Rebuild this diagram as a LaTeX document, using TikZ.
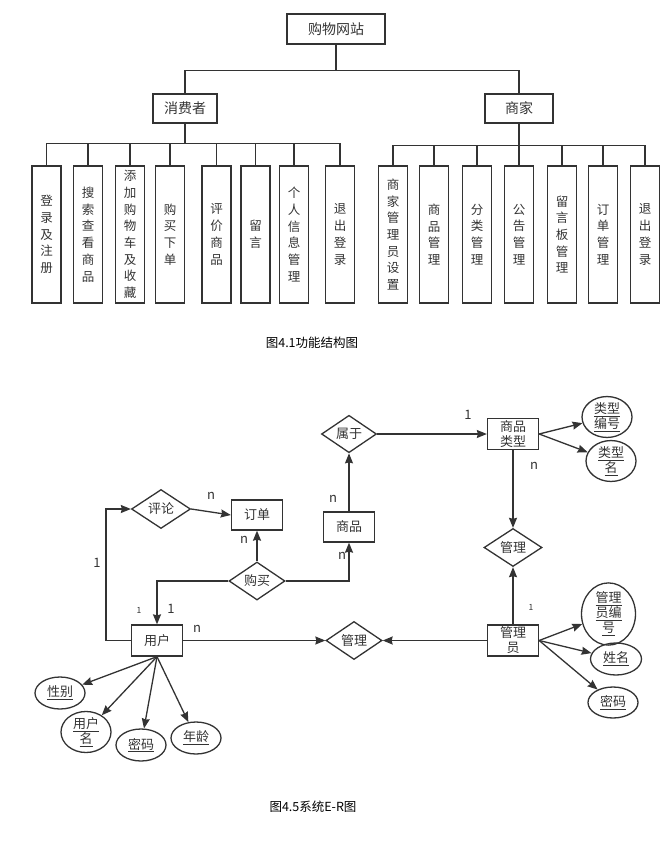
\documentclass[tikz,border=0pt]{standalone}
\usepackage{fontspec}
\setmainfont{Noto Sans CJK SC}
\usepackage{tikz}
\usetikzlibrary{arrows.meta,positioning,shapes.geometric}
\definecolor{linegray}{HTML}{333333}
\tikzset{
    >={Stealth[length=10pt,width=8pt,inset=1pt]},
    every picture/.style={line width=1.3pt},
    box/.style={rectangle,draw=linegray,inner sep=0pt,text=linegray,font=\fontsize{14}{16}\selectfont},
    leaf/.style={rectangle,draw=linegray,minimum width=29pt,minimum height=137pt,inner sep=0pt,align=center,text=linegray,font=\fontsize{12.5}{16.7}\selectfont},
    entity/.style={rectangle,draw=linegray,minimum width=51pt,minimum height=31pt,inner sep=0pt,align=center,text=linegray,font=\fontsize{13}{15}\selectfont},
    relation/.style={diamond,draw=linegray,minimum width=56pt,minimum height=34pt,inner sep=0pt,text=linegray,font=\fontsize{13}{15}\selectfont},
    attr/.style={ellipse,draw=linegray,minimum width=50pt,minimum height=32pt,inner sep=0pt,align=center,text=linegray,font=\fontsize{13}{15}\selectfont},
    card/.style={inner sep=0pt,text=linegray,font=\fontsize{13}{15}\selectfont},
    smallcard/.style={inner sep=0pt,text=linegray,font=\fontsize{8.5}{10}\selectfont},
    caption/.style={inner sep=0pt,font=\fontsize{12.5}{14}\selectfont}
}

\begin{document}
\begin{tikzpicture}[x=1pt,y=-1pt]
    \useasboundingbox (0,0) rectangle (668,843);

    % Function structure
    \node[box,minimum width=98pt,minimum height=30pt] (site) at (336,29) {购物网站};
    \node[box,minimum width=64pt,minimum height=29pt] (consumer) at (185,108.5) {消费者};
    \node[box,minimum width=68pt,minimum height=29pt] (merchant) at (519,108.5) {商家};
    \draw[linegray] (site.south) -- ++(0,26) -| (consumer.north);
    \draw[linegray] (site.south) -- ++(0,26) -| (merchant.north);

    \foreach \x/\txt [count=\i] in {46.5/{登\\录\\及\\注\\册},88/{搜\\索\\查\\看\\商\\品},
            130/{添\\加\\购\\物\\车\\及\\收\\藏},170/{购\\买\\下\\单},216.5/{评\\价\\商\\品},
            255.5/{留\\言},294/{个\\人\\信\\息\\管\\理},340/{退\\出\\登\\录}} {
        \node[leaf] (c\i) at (\x,234.5) {\txt};
        \draw[linegray] (consumer.south) -- ++(0,20) -| (c\i.north);
    }
    \foreach \x/\txt [count=\i] in {393/{商\\家\\管\\理\\员\\设\\置},434/{商\\品\\管\\理},
            477/{分\\类\\管\\理},519/{公\\告\\管\\理},562/{留\\言\\板\\管\\理},
            603/{订\\单\\管\\理},645/{退\\出\\登\\录}} {
        \node[leaf] (m\i) at (\x,234.5) {\txt};
        \draw[linegray] (merchant.south) -- ++(0,22) -| (m\i.north);
    }
    \node[caption] (cap1) at (312,343) {图4.1功能结构图};

    % E-R diagram
    \node[relation,minimum width=55pt,minimum height=33pt] (belong) at (349,434) {属于};
    \node[entity] (category) at (513,434) {商品\\类型};
    \node[attr] (typeid) at (607,417) {\underline{类型}\\\underline{编号}};
    \node[attr] (typename) at (611,461) {\underline{类型}\\\underline{名}};
    \node[relation,minimum width=59pt,minimum height=39pt] (comment) at (161,509) {评论};
    \node[entity,minimum height=30pt] (order) at (257,515) {订单};
    \node[entity,minimum height=30pt] (goods) at (349,527) {商品};
    \node[relation] (buy) at (257,581) {购买};
    \node[relation,minimum width=58pt,minimum height=35pt] (catmgr) at (513,547.5) {管理};
    \node[entity] (user) at (157,640.5) {用户};
    \node[relation] (usermgr) at (354,640.5) {管理};
    \node[entity] (admin) at (513,640.5) {管理\\员};

    \node[attr] (sex) at (60,693) {\underline{性别}};
    \node[attr] (uname) at (86,732) {\underline{用户}\\\underline{名}};
    \node[attr] (upwd) at (141,745) {\underline{密码}};
    \node[attr] (age) at (196,738) {\underline{年龄}};
    \node[attr,minimum width=54pt,minimum height=48pt] (adminid) at (608.5,614) {\underline{管理}\\\underline{员编}\\\underline{号}};
    \node[attr,minimum width=51pt] (aname) at (616,659) {\underline{姓名}};
    \node[attr,minimum height=31pt] (apwd) at (613,702.5) {\underline{密码}};

    \draw[->,linegray] (belong.east) -- (category.west);
    \draw[->,linegray] (goods.north) -- (belong.south);
    \draw[->,linegray] (category.east) -- (typeid);
    \draw[->,linegray] (category.east) -- (typename);
    \draw[->,linegray] (category.south) -- (catmgr.north);
    \draw[->,linegray] (admin.north) -- (catmgr.south);
    \draw[->,linegray] (admin.west) -- (usermgr.east);
    \draw[->,linegray] (user.east) -- (usermgr.west);
    \draw[->,linegray] (user.west) -- ++(-25,0) |- (comment.west);
    \draw[->,linegray] (comment.east) -- (order.west);
    \draw[->,linegray] (buy.north) -- (order.south);
    \draw[->,linegray] (buy.east) -| (goods.south);
    \draw[->,linegray] (buy.west) -| (user.north);
    \foreach \a in {sex,uname,upwd,age}
        \draw[->,linegray] (user.south) -- (\a);
    \foreach \a in {adminid,aname,apwd}
        \draw[->,linegray] (admin.east) -- (\a);

    % cardinalities
    \node[card] (c1) at (468,415) {1};
    \node[card] (c2) at (333,499) {n};
    \node[card] (c3) at (534,466) {n};
    \node[smallcard] (c4) at (531,607) {1};
    \node[card] (c5) at (197,629) {n};
    \node[card] (c6) at (97,563) {1};
    \node[card] (c7) at (211,496) {n};
    \node[card] (c8) at (244,540) {n};
    \node[card] (c9) at (342,556) {n};
    \node[smallcard] (c10) at (139,610) {1};
    \node[card] (c11) at (171,609) {1};

    \node[caption] (cap2) at (313,807) {图4.5系统E-R图};
\end{tikzpicture}
\end{document}
